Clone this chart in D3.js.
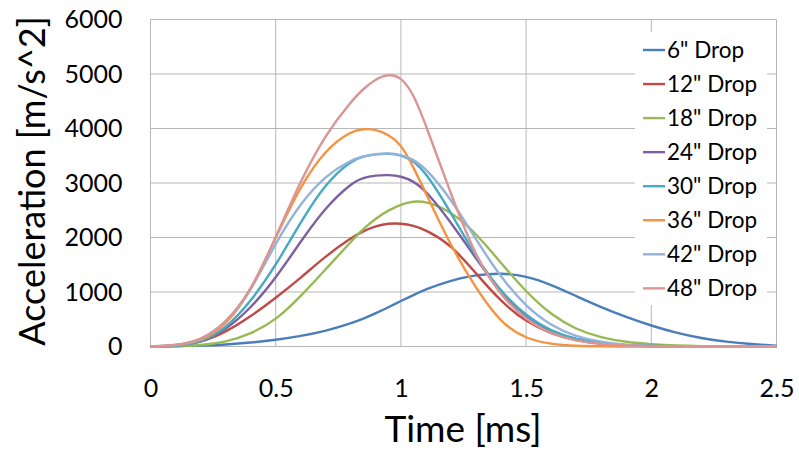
<!DOCTYPE html>
<html><head><meta charset="utf-8">
<script src="https://cdn.jsdelivr.net/npm/d3@7"></script>
<style>
html,body{margin:0;padding:0;background:#fff;}
svg{display:block;font-family:Lato,"Open Sans",sans-serif;}
</style></head>
<body><svg id="c" width="799" height="454"></svg>
<script>
const times = [0,0.1,0.2,0.3,0.4,0.5,0.6,0.7,0.8,0.85,0.9,0.95,1.0,1.05,1.1,1.2,1.3,1.4,1.5,1.6,1.7,1.8,1.9,2.0,2.1,2.2,2.3,2.4,2.5];
const seriesNames = ['6" Drop','12" Drop','18" Drop','24" Drop','30" Drop','36" Drop','42" Drop','48" Drop'];
const seriesColors = ["#4A7EBB","#BE4B48","#98B954","#7D60A0","#46AAC5","#F69240","#93B3DA","#D99694"];
const drop6  = [0,5,15,35,70,120,190,285,425,510,610,720,835,945,1050,1215,1315,1350,1295,1135,925,720,540,380,250,150,85,45,15];
const drop12 = [0,10,70,260,550,890,1260,1660,1990,2120,2210,2260,2260,2220,2140,1870,1340,820,450,230,110,50,20,8,3,1,0,0,0];
const drop18 = [0,2,20,80,230,480,920,1420,1920,2160,2350,2500,2610,2665,2665,2480,2080,1530,1000,580,310,160,80,40,15,5,2,0,0];
const drop24 = [0,5,80,300,700,1250,1930,2560,2990,3100,3140,3150,3125,3035,2860,2280,1610,980,540,270,120,50,20,7,2,0,0,0,0];
const drop30 = [0,5,70,320,820,1480,2290,3000,3410,3490,3530,3540,3515,3410,3190,2460,1630,1000,560,280,130,55,20,7,2,0,0,0,0];
const drop36 = [0,15,90,380,1000,2000,2960,3620,3950,3995,3985,3890,3720,3290,2810,1840,1060,420,140,40,10,3,0,0,0,0,0,0,0];
const drop42 = [0,15,100,420,1000,1910,2640,3140,3420,3490,3535,3545,3525,3430,3270,2710,1960,1260,730,380,180,80,30,10,3,0,0,0,0];
const drop48 = [0,20,110,420,1000,2000,3050,3900,4490,4730,4910,5000,4950,4640,4060,2790,1620,930,480,230,100,40,15,5,2,0,0,0,0];
const seriesValues = [drop6,drop12,drop18,drop24,drop30,drop36,drop42,drop48];
const xTicks = [0,0.5,1,1.5,2,2.5];
const yTicks = [0,1000,2000,3000,4000,5000,6000];
const xTitle = "Time [ms]";
const yTitle = "Acceleration [m/s^2]";

const svg = d3.select("#c");
const x = d3.scaleLinear().domain([0,2.5]).range([150.5,776.5]);
const y = d3.scaleLinear().domain([0,6000]).range([346.5,19.5]);
const grid = "#b7b7b7";

// gridlines
svg.append("g").selectAll("line").data(xTicks).join("line")
  .attr("x1",d=>x(d)).attr("x2",d=>x(d)).attr("y1",y(0)).attr("y2",y(6000))
  .attr("stroke",grid).attr("stroke-width",1);
svg.append("g").selectAll("line").data(yTicks).join("line")
  .attr("x1",x(0)).attr("x2",x(2.5)).attr("y1",d=>y(d)).attr("y2",d=>y(d))
  .attr("stroke",grid).attr("stroke-width",1);

// axes labels via d3 axes
const xAxis = svg.append("g").attr("transform",`translate(0,${y(0)})`)
  .call(d3.axisBottom(x).tickValues(xTicks).tickSize(0).tickPadding(33).tickFormat(d3.format("")));
xAxis.select(".domain").remove();
xAxis.selectAll("text").attr("font-size",25).attr("fill","#000").attr("font-family","Lato");
const yAxis = svg.append("g").attr("transform",`translate(${x(0)},0)`)
  .call(d3.axisLeft(y).tickValues(yTicks).tickSize(0).tickPadding(28).tickFormat(d3.format("d")));
yAxis.select(".domain").remove();
yAxis.selectAll("text").attr("font-size",25).attr("fill","#000").attr("font-family","Lato");

// lines
const line = d3.line().x((d,i)=>x(times[i])).y(d=>y(Math.max(0,d))).curve(d3.curveBasis);
svg.append("g").selectAll("path").data(seriesValues).join("path")
  .attr("d",d=>line(d)).attr("fill","none")
  .attr("stroke",(d,i)=>seriesColors[i]).attr("stroke-width",2.4)
  .attr("stroke-linejoin","round");

// legend
const lg = svg.append("g");
lg.append("rect").attr("x",635).attr("y",32).attr("width",132).attr("height",273).attr("fill","#fff");
const rows = lg.selectAll("g").data(seriesNames).join("g")
  .attr("transform",(d,i)=>`translate(0,${50+i*34.05})`);
rows.append("line").attr("x1",643).attr("x2",665).attr("y1",0).attr("y2",0)
  .attr("stroke",(d,i)=>seriesColors[i]).attr("stroke-width",2.4);
rows.append("text").attr("x",667).attr("y",0).attr("dy","0.36em")
  .attr("font-size",22.5).attr("fill","#000").text(d=>d);

// titles
svg.append("text").attr("x",463).attr("y",442).attr("text-anchor","middle")
  .attr("font-size",37).attr("fill","#000").text(xTitle);
svg.append("text").attr("transform","translate(45,181) rotate(-90)").attr("text-anchor","middle")
  .attr("font-size",36).attr("fill","#000").text(yTitle);
</script></body></html>
